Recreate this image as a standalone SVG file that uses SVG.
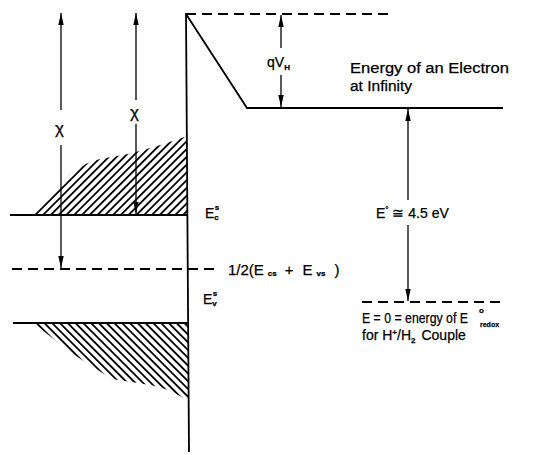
<svg xmlns="http://www.w3.org/2000/svg" width="540" height="455" viewBox="0 0 540 455">
<style>
.ln{stroke:#000;stroke-width:1.8;fill:none}
.ds{stroke:#000;stroke-width:1.8;fill:none;stroke-dasharray:10 6}
.ar{stroke:#000;stroke-width:1.3;fill:none}
.t{font-family:"Liberation Sans Narrow","Liberation Sans",Arial,sans-serif;font-size:14px;fill:#000;stroke:#000;stroke-width:0.25}
.s{font-size:8px;font-weight:bold}
.chi{font-size:17px}
.sm{font-size:8px;font-weight:bold}
.xs{font-size:7px;font-weight:bold}
.mid{font-size:15px}
</style>
<defs>
<pattern id="hu" patternUnits="userSpaceOnUse" width="5.5" height="5.5" patternTransform="rotate(45)">
<rect x="0" y="0" width="1.8" height="5.5" fill="#000"/>
</pattern>
<pattern id="hd" patternUnits="userSpaceOnUse" width="5.5" height="5.5" patternTransform="rotate(-45)">
<rect x="0" y="0" width="1.8" height="5.5" fill="#000"/>
</pattern>
<marker id="ah" markerWidth="12" markerHeight="6" refX="12" refY="3" orient="auto" markerUnits="userSpaceOnUse" viewBox="0 0 12 6">
<path d="M0,0.3 L12,3 L0,5.7 Z" fill="#000"/>
</marker>
</defs>

<g id="bands">
<path d="M32,215 Q55,190 70,174 Q85,162 100,159 L128,154 Q160,146 187,136 L187,215 Z" fill="url(#hu)"/>
<path d="M33,323 L189,323 L189,402 Q170,388 150,385 L112,379 Q88,364 70,352 Q50,336 33,323 Z" fill="url(#hd)"/>
<line class="ln" x1="10" y1="215" x2="188" y2="215"/>
<line class="ln" x1="13" y1="323" x2="189" y2="323"/>
<line class="ds" x1="12" y1="269" x2="220" y2="269"/>
</g>

<g id="surface">
<line class="ln" x1="186" y1="13" x2="189" y2="452"/>
<line class="ds" x1="186" y1="14" x2="392" y2="14"/>
<polyline class="ln" points="186,14 247,108 503,108"/>
<line class="ds" x1="362" y1="302" x2="505" y2="302"/>
</g>

<g id="connectors">
<line class="ar" x1="61" y1="110" x2="61" y2="13" marker-end="url(#ah)"/>
<line class="ar" x1="61" y1="145" x2="61" y2="268" marker-end="url(#ah)"/>
<line class="ar" x1="136" y1="100" x2="136" y2="13" marker-end="url(#ah)"/>
<line class="ar" x1="136" y1="124" x2="136" y2="214" marker-end="url(#ah)"/>
<line class="ar" x1="281" y1="48" x2="281" y2="15" marker-end="url(#ah)"/>
<line class="ar" x1="281" y1="75" x2="281" y2="107" marker-end="url(#ah)"/>
<line class="ar" x1="408" y1="200" x2="408" y2="109" marker-end="url(#ah)"/>
<line class="ar" x1="408" y1="225" x2="408" y2="301" marker-end="url(#ah)"/>
</g>

<g id="labels">
<text class="t chi" x="55" y="134">χ</text>
<text class="t chi" x="130" y="118">χ</text>
<text class="t" x="267" y="67">qV<tspan class="s" dy="3">H</tspan></text>
<text class="t" x="350" y="73" textLength="159" lengthAdjust="spacingAndGlyphs">Energy of an Electron</text>
<text class="t" x="350" y="91" textLength="62" lengthAdjust="spacingAndGlyphs">at Infinity</text>
<text class="t" x="205" y="218">E<tspan class="s" dy="2">c</tspan><tspan class="s" dx="-4" dy="-10">s</tspan></text>
<text class="t" x="203" y="304">E<tspan class="s" dy="2">v</tspan><tspan class="s" dx="-4" dy="-10">s</tspan></text>
<text class="t" x="376" y="218">E<tspan class="s" dy="-6">°</tspan><tspan dy="6"> ≅ 4.5 eV</tspan></text>
<text class="t mid" x="228" y="275">1/2(E<tspan class="s" dx="4" dy="1">cs</tspan><tspan dx="8" dy="-1">+</tspan><tspan dx="9">E</tspan><tspan class="s" dx="4" dy="1">vs</tspan><tspan dx="9" dy="-1">)</tspan></text>
<text class="t" x="362" y="323" textLength="106" lengthAdjust="spacingAndGlyphs">E = 0 = energy of E</text>
<text class="t sm" x="479" y="313">o</text>
<text class="t xs" x="480" y="327">redox</text>
<text class="t" x="362" y="340">for H<tspan class="s" dy="-5">+</tspan><tspan dy="5">/H</tspan><tspan class="s" dy="3">2</tspan><tspan dx="6" dy="-3">Couple</tspan></text>
</g>
</svg>
